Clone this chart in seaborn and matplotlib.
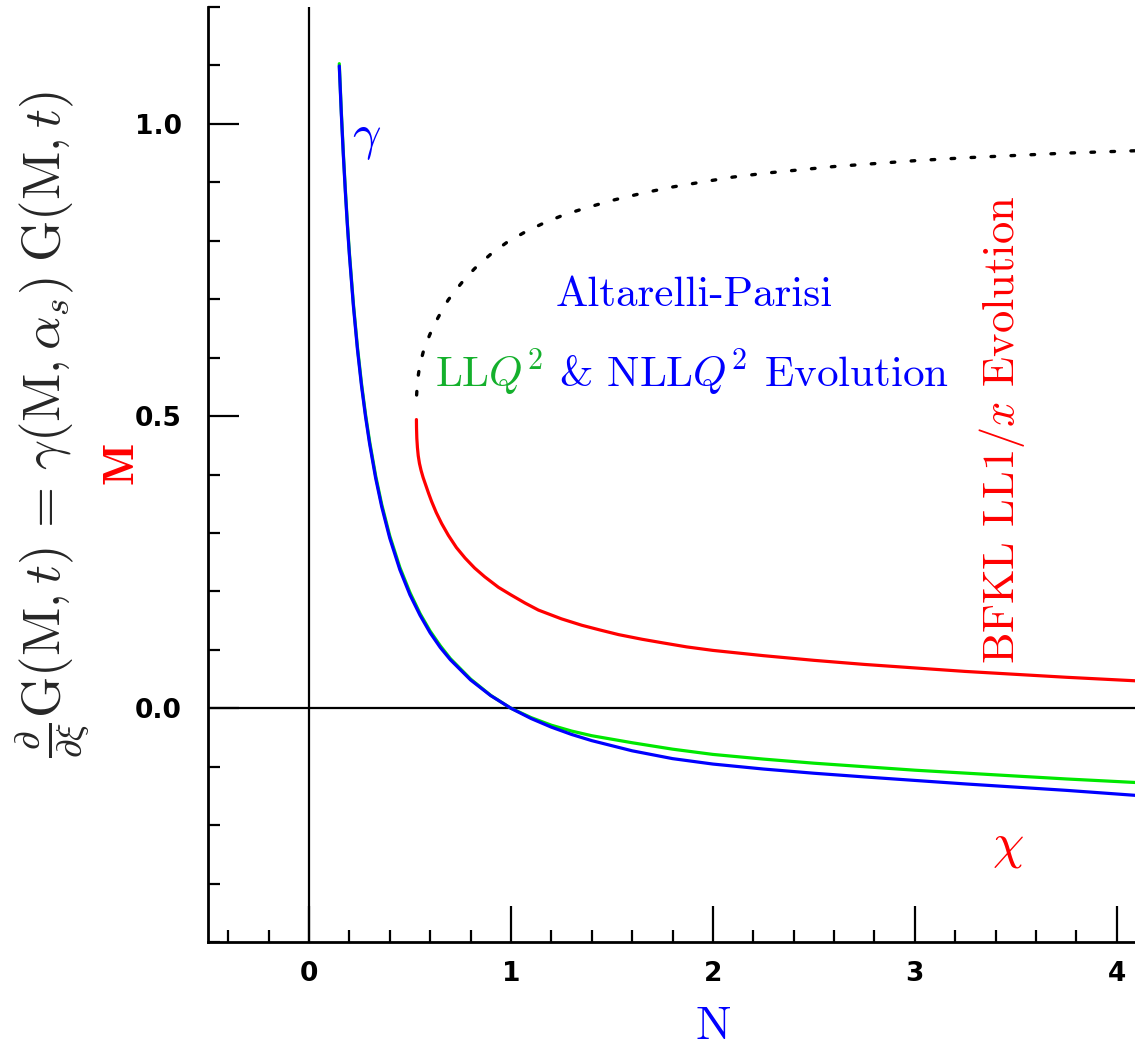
import matplotlib
matplotlib.use("Agg")
import matplotlib.pyplot as plt
import seaborn as sns
from matplotlib.ticker import MultipleLocator, FixedLocator

# Anomalous dimensions gamma(N) versus N
n_dglap = [0.150, 0.160, 0.170, 0.180, 0.190, 0.200, 0.220, 0.240, 0.260, 0.280,
           0.300, 0.330, 0.360, 0.400, 0.450, 0.500, 0.550, 0.600, 0.650, 0.700,
           0.800, 0.900, 1.000, 1.100, 1.200, 1.300, 1.400, 1.600, 1.800, 2.000,
           2.250, 2.500, 2.750, 3.000, 3.250, 3.500, 3.750, 4.090]
gamma_nll = [1.099, 1.018, 0.947, 0.884, 0.827, 0.776, 0.688, 0.614, 0.552, 0.499,
             0.453, 0.394, 0.345, 0.291, 0.237, 0.194, 0.159, 0.129, 0.104, 0.083,
             0.0485, 0.0216, 0.000, -0.0176, -0.0323, -0.0448, -0.0554, -0.0728,
             -0.0862, -0.0955, -0.1040, -0.1112, -0.1175, -0.1235, -0.1295,
             -0.1350, -0.1405, -0.1490]
gamma_ll = [1.103, 1.022, 0.951, 0.888, 0.831, 0.780, 0.692, 0.618, 0.556, 0.503,
            0.457, 0.398, 0.349, 0.295, 0.241, 0.198, 0.162, 0.132, 0.107, 0.085,
            0.050, 0.022, 0.000, -0.016, -0.029, -0.039, -0.047, -0.059, -0.070,
            -0.079, -0.087, -0.094, -0.100, -0.106, -0.111, -0.116, -0.121,
            -0.127]

n_bfkl = [0.532, 0.5325, 0.534, 0.537, 0.541, 0.547, 0.555, 0.565, 0.578, 0.592,
          0.607, 0.630, 0.657, 0.690, 0.730, 0.773, 0.820, 0.870, 0.938, 1.000,
          1.070, 1.136, 1.250, 1.351, 1.440, 1.533, 1.650, 1.750, 1.870, 2.000,
          2.250, 2.500, 2.750, 3.000, 3.250, 3.500, 3.750, 4.090]
gamma_bfkl = [0.494, 0.480, 0.462, 0.446, 0.432, 0.419, 0.407, 0.395, 0.382, 0.368,
              0.354, 0.335, 0.316, 0.296, 0.275, 0.257, 0.240, 0.225, 0.207, 0.194,
              0.180, 0.168, 0.153, 0.142, 0.134, 0.126, 0.118, 0.112, 0.105, 0.099,
              0.090, 0.082, 0.075, 0.069, 0.063, 0.058, 0.053, 0.047]

n_branch = [0.533, 0.536, 0.540, 0.547, 0.556, 0.566, 0.580, 0.599, 0.620, 0.640,
            0.665, 0.690, 0.730, 0.775, 0.822, 0.900, 0.979, 1.070, 1.161, 1.260,
            1.360, 1.500, 1.658, 1.800, 1.955, 2.100, 2.270, 2.450, 2.600, 2.800,
            3.000, 3.250, 3.500, 3.750, 4.090]
gamma_branch = [0.536, 0.553, 0.567, 0.583, 0.597, 0.610, 0.624, 0.640, 0.656, 0.669,
                0.685, 0.699, 0.717, 0.736, 0.753, 0.777, 0.797, 0.815, 0.830, 0.844,
                0.855, 0.869, 0.882, 0.892, 0.901, 0.909, 0.916, 0.922, 0.927, 0.932,
                0.937, 0.942, 0.946, 0.950, 0.954]

x_major = [0, 1, 2, 3, 4]
x_labels = ["0", "1", "2", "3", "4"]
y_major = [0.0, 0.5, 1.0]
y_labels = ["0.0", "0.5", "1.0"]

BLUE = "#0000ff"
RED = "#ff0000"
GREEN = "#00e800"
GREEN_TXT = "#14b02c"

sns.set_style("ticks")
plt.rcParams["font.family"] = ["DejaVu Sans"]
plt.rcParams["mathtext.fontset"] = "cm"
plt.rcParams["lines.scale_dashes"] = False

fig = plt.figure(figsize=(11.35, 10.57), dpi=100)
ax = fig.add_axes([208 / 1135, 1 - 942 / 1057, (1135 - 208) / 1135, (942 - 7) / 1057])

ax.axhline(0, color="black", lw=1.6, zorder=1)
ax.axvline(0, color="black", lw=1.6, zorder=1)

sns.lineplot(x=n_dglap, y=gamma_ll, color=GREEN, lw=2.3, ax=ax, estimator=None, sort=False)
sns.lineplot(x=n_dglap, y=gamma_nll, color=BLUE, lw=2.3, ax=ax, estimator=None, sort=False)
sns.lineplot(x=n_bfkl, y=gamma_bfkl, color=RED, lw=2.3, ax=ax, estimator=None, sort=False)
sns.lineplot(x=n_branch, y=gamma_branch, color="black", lw=2.4, ax=ax, estimator=None, sort=False)
dotted = ax.lines[-1]
dotted.set_linestyle((0, (2.6, 11.8)))
dotted.set_dash_capstyle("round")

ax.set_xlim(-0.5, 4.09)
ax.set_ylim(-0.4, 1.2)

for side in ("top", "right"):
    ax.spines[side].set_visible(False)
for side in ("left", "bottom"):
    ax.spines[side].set_linewidth(2.0)
    ax.spines[side].set_color("black")

ax.xaxis.set_major_locator(FixedLocator(x_major))
ax.set_xticklabels(x_labels)
ax.xaxis.set_minor_locator(MultipleLocator(0.2))
ax.yaxis.set_major_locator(FixedLocator(y_major))
ax.set_yticklabels(y_labels)
ax.yaxis.set_minor_locator(MultipleLocator(0.1))

ax.tick_params(axis="x", which="major", direction="in", length=26, width=1.6, pad=14,
               labelsize=19, colors="black")
ax.tick_params(axis="y", which="major", direction="in", length=22, width=1.6, pad=19,
               labelsize=19, colors="black")
ax.tick_params(which="minor", direction="in", length=8.5, width=1.6, colors="black")
for lab in ax.get_xticklabels() + ax.get_yticklabels():
    lab.set_fontweight("bold")

ax.set_xlabel("")
ax.set_ylabel("")

# annotations
ax.text(0.285, 0.976, r"$\gamma$", color=BLUE, fontsize=36, ha="center", va="center")
ax.text(3.46, -0.235, r"$\chi$", color=RED, fontsize=36, ha="center", va="center")
ax.text(1.906, 0.707, "Altarelli-Parisi", color=BLUE, fontsize=31,
        family="cmr10", ha="center", va="center")
t1 = ax.text(0.625, 0.575, r"LL$Q^2$", color=GREEN_TXT, fontsize=31,
             family="cmr10", ha="left", va="center")
ax.annotate(r"& NLL$Q^2$ Evolution", xy=(1, 0), xycoords=t1, xytext=(11, 0),
            textcoords="offset points", color=BLUE, fontsize=31, family="cmr10",
            ha="left", va="bottom")
ax.text(3.43, 0.476, r"BFKL LL$1/x$ Evolution", color=RED, fontsize=32,
        family="cmr10", rotation=90, ha="center", va="center")

fig.text(52 / 1135, 1 - 425 / 1057,
         r"$\frac{\partial}{\partial\xi}\mathrm{G}(\mathrm{M},t)\,=\,"
         r"\gamma(\mathrm{M},\alpha_s)\;\mathrm{G}(\mathrm{M},t)$",
         fontsize=38, rotation=90, ha="center", va="center")
fig.text(122 / 1135, 1 - 465 / 1057, r"$\mathbf{M}$", color=RED, fontsize=32,
         rotation=90, ha="center", va="center")
fig.text(713 / 1135, 1 - 1027 / 1057, "N", color=BLUE, fontsize=34,
         family="cmr10", ha="center", va="center")

fig.savefig("out.png", dpi=100)
